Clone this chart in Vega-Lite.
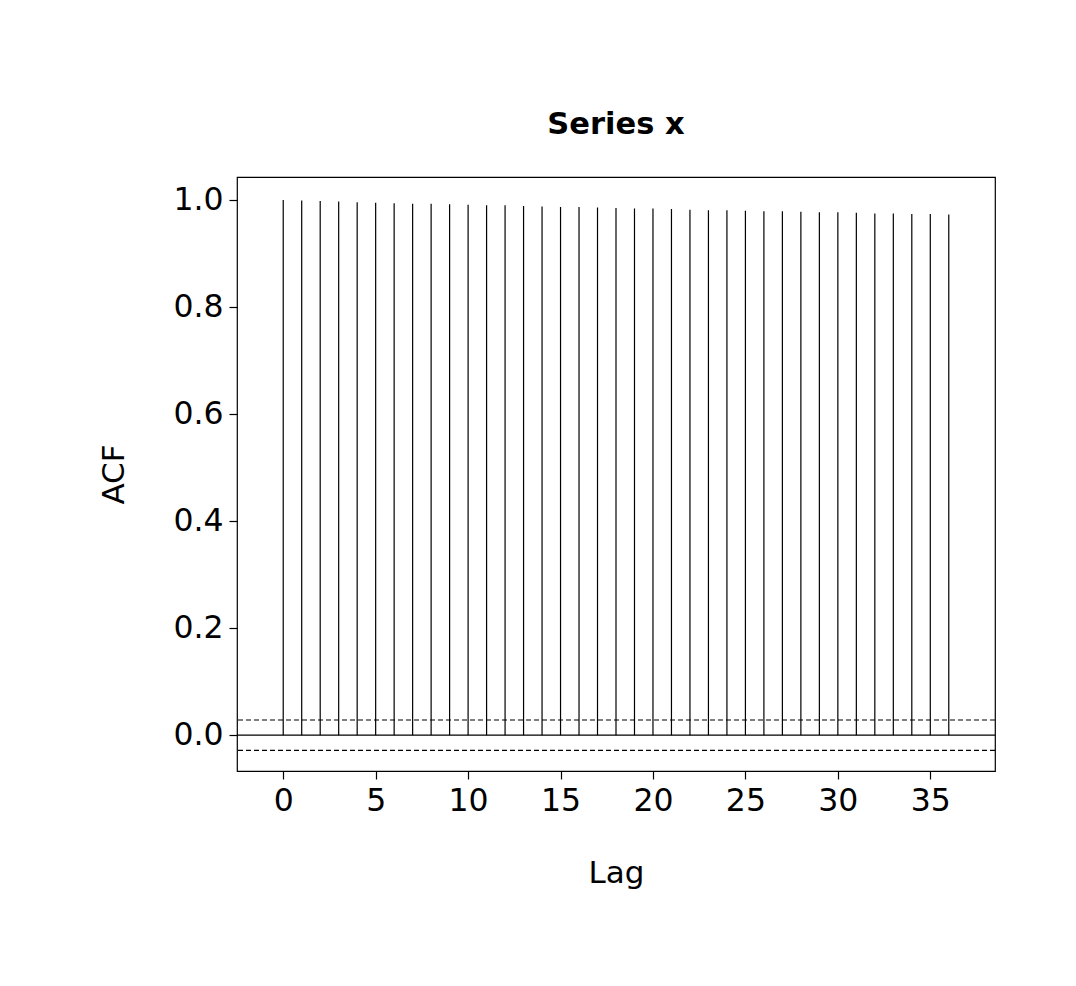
{
  "$schema": "https://vega.github.io/schema/vega-lite/v6.json",
  "autosize": "none",
  "width": 758,
  "height": 594,
  "padding": {"left": 237, "top": 177, "right": 81, "bottom": 215},
  "background": "white",
  "title": {
    "text": "Series x",
    "font": "DejaVu Sans",
    "fontSize": 30.5,
    "fontWeight": "bold",
    "color": "black",
    "anchor": "middle",
    "baseline": "alphabetic",
    "offset": 13
  },
  "datasets": {
    "acf": [
      {"lag": 0, "acf": 1.000},
      {"lag": 1, "acf": 0.999},
      {"lag": 2, "acf": 0.998},
      {"lag": 3, "acf": 0.997},
      {"lag": 4, "acf": 0.996},
      {"lag": 5, "acf": 0.995},
      {"lag": 6, "acf": 0.994},
      {"lag": 7, "acf": 0.993},
      {"lag": 8, "acf": 0.993},
      {"lag": 9, "acf": 0.992},
      {"lag": 10, "acf": 0.991},
      {"lag": 11, "acf": 0.990},
      {"lag": 12, "acf": 0.990},
      {"lag": 13, "acf": 0.989},
      {"lag": 14, "acf": 0.988},
      {"lag": 15, "acf": 0.987},
      {"lag": 16, "acf": 0.987},
      {"lag": 17, "acf": 0.986},
      {"lag": 18, "acf": 0.985},
      {"lag": 19, "acf": 0.984},
      {"lag": 20, "acf": 0.984},
      {"lag": 21, "acf": 0.983},
      {"lag": 22, "acf": 0.982},
      {"lag": 23, "acf": 0.981},
      {"lag": 24, "acf": 0.981},
      {"lag": 25, "acf": 0.980},
      {"lag": 26, "acf": 0.979},
      {"lag": 27, "acf": 0.979},
      {"lag": 28, "acf": 0.978},
      {"lag": 29, "acf": 0.977},
      {"lag": 30, "acf": 0.977},
      {"lag": 31, "acf": 0.976},
      {"lag": 32, "acf": 0.975},
      {"lag": 33, "acf": 0.975},
      {"lag": 34, "acf": 0.974},
      {"lag": 35, "acf": 0.974},
      {"lag": 36, "acf": 0.973}
    ],
    "bounds": [
      {"ci": 0.0283},
      {"ci": -0.0283}
    ]
  },
  "layer": [
    {
      "data": {"name": "acf"},
      "mark": {"type": "rule", "color": "black", "strokeWidth": 1.2},
      "encoding": {
        "x": {
          "field": "lag",
          "type": "quantitative",
          "scale": {"domain": [-2.5, 38.5], "nice": false, "zero": false},
          "axis": {
            "title": "Lag",
            "values": [0, 5, 10, 15, 20, 25, 30, 35],
            "titlePadding": 42
          }
        },
        "y": {
          "field": "acf",
          "type": "quantitative",
          "scale": {"domain": [-0.067, 1.043], "nice": false, "zero": false},
          "axis": {
            "title": "ACF",
            "values": [0, 0.2, 0.4, 0.6, 0.8, 1.0],
            "format": ".1f",
            "titlePadding": 42
          }
        },
        "y2": {"datum": 0}
      }
    },
    {
      "data": {"values": [{"base": 0}]},
      "mark": {"type": "rule", "color": "black", "strokeWidth": 1.2},
      "encoding": {
        "y": {"field": "base", "type": "quantitative"}
      }
    },
    {
      "data": {"name": "bounds"},
      "mark": {"type": "rule", "color": "black", "strokeWidth": 1.2, "strokeDash": [5, 3]},
      "encoding": {
        "y": {"field": "ci", "type": "quantitative"}
      }
    }
  ],
  "config": {
    "font": "DejaVu Sans",
    "view": {"stroke": "black", "strokeWidth": 1.2},
    "axis": {
      "grid": false,
      "domain": false,
      "ticks": true,
      "tickColor": "black",
      "tickSize": 8,
      "tickWidth": 1.2,
      "labelFont": "DejaVu Sans",
      "labelFontSize": 31.5,
      "labelColor": "black",
      "labelPadding": 6,
      "labelFlush": false,
      "labelOverlap": false,
      "titleFont": "DejaVu Sans",
      "titleFontSize": 31,
      "titleFontWeight": "normal",
      "titleColor": "black"
    }
  }
}
